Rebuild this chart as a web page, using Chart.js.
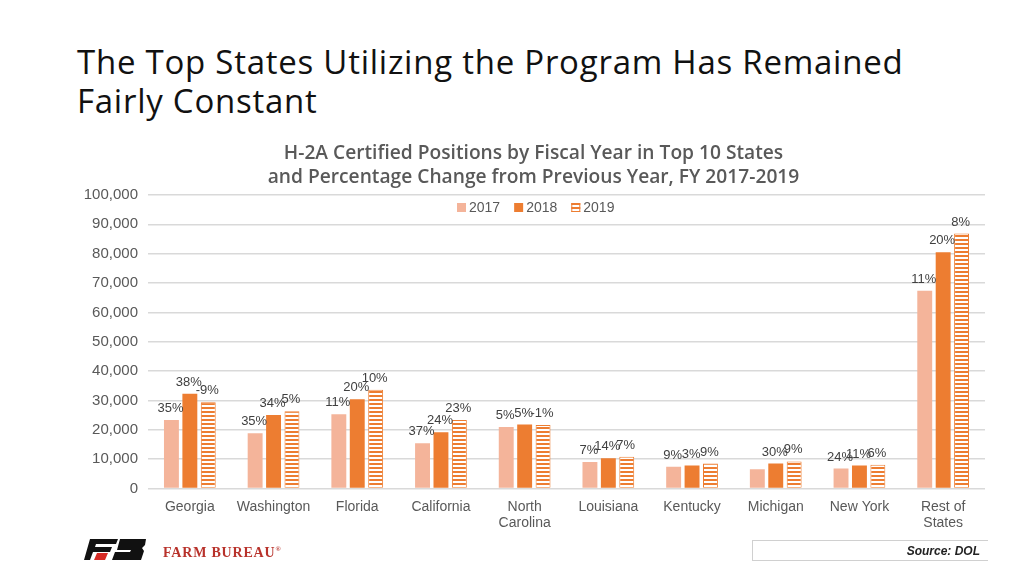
<!DOCTYPE html>
<html>
<head>
<meta charset="utf-8">
<script src="https://cdn.jsdelivr.net/npm/chart.js@4"></script>
<style>
  body { margin: 0; width: 1024px; height: 576px; background: #fff; overflow: hidden; position: relative; font-family: 'Liberation Sans', Arial, sans-serif; }
  #title { position: absolute; left: 77px; top: 42px; font-family: 'Open Sans', sans-serif; font-size: 33px; letter-spacing: 0.75px; line-height: 39px; color: #111; }
  #wrap { position: absolute; left: 0; top: 135px; width: 1024px; height: 411px; }
  #logo { position: absolute; left: 84px; top: 539px; }
  #fb { position: absolute; left: 163px; top: 545px; font-family: 'Liberation Serif', serif; font-weight: bold; font-size: 14px; color: #b8322b; letter-spacing: 0.8px; }
  #source { position: absolute; left: 752px; top: 540px; width: 236px; height: 21px; border: 1px solid #d0d0d0; border-right: none; box-sizing: border-box; text-align: right; padding-right: 8px; font-size: 12px; line-height: 20px; font-weight: bold; font-style: italic; color: #222; }
</style>
</head>
<body>
<div id="title">The Top States Utilizing the Program Has Remained<br>Fairly Constant</div>
<div id="wrap"><canvas id="chart"></canvas></div>
<svg id="logo" width="66" height="22" viewBox="0 0 66 22">
  <polygon points="6,0 34,0 32,5 12,5 11,8 28,8 26,13 9,13 6,21 0,21" fill="#111"/>
  <polygon points="13,14 24,14 21,21 10,21" fill="#d62b25"/>
  <polygon points="36,0 62,0 61,6 58,9 60,12 57,21 28,21 31,13 46,13 47,11 33,11" fill="#111"/>
</svg>
<div id="fb">FARM BUREAU<sup style="font-size:7px">®</sup></div>
<div id="source">Source: DOL</div>
<script>
// categories and series
const states = ['Georgia', 'Washington', 'Florida', 'California', ['North', 'Carolina'], 'Louisiana', 'Kentucky', 'Michigan', 'New York', ['Rest of', 'States']];
const years = ['2017', '2018', '2019'];
const positions2017 = [23300, 18800, 25300, 15400, 20900, 9000, 7400, 6500, 6800, 67400];
const positions2018 = [32300, 25000, 30400, 19100, 21800, 10300, 7800, 8500, 7800, 80500];
const positions2019 = [29400, 26300, 33600, 23300, 21600, 10800, 8500, 9200, 8100, 86900];
// % change from previous year, shown above bars
const change2017 = ['35%', '35%', '11%', '37%', '5%', '7%', '9%', null, '24%', '11%'];
const change2018 = ['38%', '34%', '20%', '24%', '5%', '14%', '3%', '30%', '11%', '20%'];
const change2019 = ['-9%', '5%', '10%', '23%', '-1%', '7%', '9%', '9%', '6%', '8%'];
const yTicks = [0, 10000, 20000, 30000, 40000, 50000, 60000, 70000, 80000, 90000, 100000];

const FONT = "'Liberation Sans', Arial, sans-serif";
const changes = [change2017, change2018, change2019];

// horizontal stripes for 2019
function stripes() {
    const c = document.createElement('canvas');
    c.width = 4; c.height = 4;
    const g = c.getContext('2d');
    g.fillStyle = '#ffffff';
    g.fillRect(0, 0, 4, 4);
    g.fillStyle = '#ED7D31';
    g.fillRect(0, 0, 4, 2);
    return g.createPattern(c, 'repeat');
}
const stripeFill = stripes();

const changeLabels = {
    id: 'changeLabels',
    afterDatasetsDraw(chart) {
        const ctx = chart.ctx;
        ctx.save();
        ctx.font = '13px ' + FONT;
        ctx.fillStyle = '#404040';
        ctx.textAlign = 'center';
        ctx.textBaseline = 'bottom';
        chart.data.datasets.forEach((ds, i) => {
            chart.getDatasetMeta(i).data.forEach((bar, j) => {
                const t = changes[i][j];
                if (t == null) return;
                ctx.fillText(t, bar.x - 1, bar.y - 5);
            });
        });
        ctx.restore();
    }
};

// legend sits inside the plot area, like the original
const innerLegend = {
    id: 'innerLegend',
    afterDraw(chart) {
        const ctx = chart.ctx;
        ctx.save();
        ctx.font = '14px ' + FONT;
        ctx.textBaseline = 'middle';
        let x = 457;
        const y = 73;
        chart.data.datasets.forEach(ds => {
            ctx.fillStyle = ds.backgroundColor;
            ctx.fillRect(x, y - 5, 9, 9);
            if (ds.borderWidth) {
                ctx.strokeStyle = ds.borderColor;
                ctx.lineWidth = 1;
                ctx.strokeRect(x + 0.5, y - 4.5, 8, 8);
            }
            ctx.fillStyle = '#595959';
            ctx.fillText(ds.label, x + 12, y);
            x += 12 + ctx.measureText(ds.label).width + 14;
        });
        ctx.restore();
    }
};

new Chart(document.getElementById('chart'), {
    type: 'bar',
    data: {
        labels: states,
        datasets: [
            { label: years[0], data: positions2017, backgroundColor: '#F4B49A', borderWidth: 0 },
            { label: years[1], data: positions2018, backgroundColor: '#ED7D31', borderWidth: 0 },
            { label: years[2], data: positions2019, backgroundColor: stripeFill, borderColor: '#ED7D31', borderWidth: 1 }
        ]
    },
    options: {
        responsive: true,
        maintainAspectRatio: false,
        animation: false,
        devicePixelRatio: 1,
        barPercentage: 0.81,
        categoryPercentage: 0.66,
        layout: { padding: { left: 82, right: 39, top: 0, bottom: 4 } },
        scales: {
            y: {
                min: 0,
                max: 100000,
                afterBuildTicks: axis => { axis.ticks = yTicks.map(v => ({ value: v })); },
                afterFit: axis => { axis.width = 66; },
                ticks: {
                    color: '#595959',
                    font: { family: FONT, size: 15 },
                    padding: 10,
                    callback: v => v.toLocaleString('en-US')
                },
                grid: { color: '#D9D9D9', lineWidth: 1.5, drawTicks: false },
                border: { display: false }
            },
            x: {
                ticks: {
                    color: '#595959',
                    font: { family: FONT, size: 14, lineHeight: 1.2 },
                    padding: 10,
                    maxRotation: 0
                },
                grid: { display: false, drawTicks: false },
                border: { display: false }
            }
        },
        plugins: {
            legend: { display: false },
            tooltip: { enabled: false },
            title: {
                display: true,
                text: ['H-2A Certified Positions by Fiscal Year in Top 10 States', 'and Percentage Change from Previous Year, FY 2017-2019'],
                color: '#595959',
                font: { family: "'Open Sans', sans-serif", size: 19.2, weight: '600', lineHeight: 1.25 },
                padding: { top: 7, bottom: 5 }
            }
        }
    },
    plugins: [changeLabels, innerLegend]
});
</script>
</body>
</html>
